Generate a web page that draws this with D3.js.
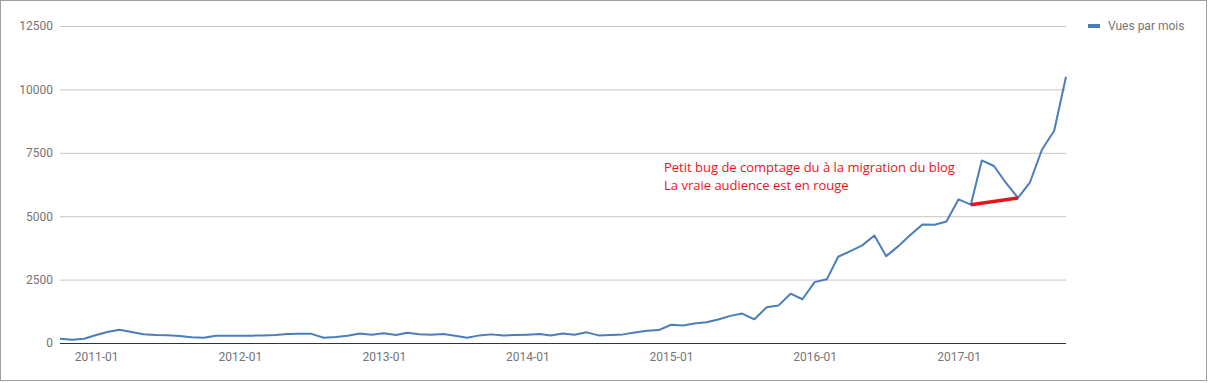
<!DOCTYPE html>
<html>
<head>
<meta charset="utf-8">
<script src="https://cdn.jsdelivr.net/npm/d3@7"></script>
<style>
  html, body { margin: 0; padding: 0; background: #fff; }
  svg { display: block; }
</style>
</head>
<body>
<svg id="chart" width="1209" height="383"></svg>
<script>
// ---- Data ----
const months = [
  "2010-10","2010-11","2010-12",
  "2011-01","2011-02","2011-03","2011-04","2011-05","2011-06","2011-07","2011-08","2011-09","2011-10","2011-11","2011-12",
  "2012-01","2012-02","2012-03","2012-04","2012-05","2012-06","2012-07","2012-08","2012-09","2012-10","2012-11","2012-12",
  "2013-01","2013-02","2013-03","2013-04","2013-05","2013-06","2013-07","2013-08","2013-09","2013-10","2013-11","2013-12",
  "2014-01","2014-02","2014-03","2014-04","2014-05","2014-06","2014-07","2014-08","2014-09","2014-10","2014-11","2014-12",
  "2015-01","2015-02","2015-03","2015-04","2015-05","2015-06","2015-07","2015-08","2015-09","2015-10","2015-11","2015-12",
  "2016-01","2016-02","2016-03","2016-04","2016-05","2016-06","2016-07","2016-08","2016-09","2016-10","2016-11","2016-12",
  "2017-01","2017-02","2017-03","2017-04","2017-05","2017-06","2017-07","2017-08","2017-09","2017-10"
];
const vuesParMois = [
  170,130,170,
  315,445,525,435,345,315,305,275,225,210,290,290,
  290,290,300,315,355,365,360,210,235,290,375,330,
  380,315,405,345,330,355,290,210,300,340,300,315,
  330,355,295,375,325,420,300,320,340,415,485,510,
  720,690,765,820,930,1070,1160,935,1410,1475,1945,1725,
  2400,2510,3400,3625,3850,4240,3425,3820,4265,4670,4665,4790,
  5665,5455,7200,6980,6320,5720,6320,7630,8370,10500
];
// corrected audience segment (drawn in red)
const vraieMonths = ["2017-02","2017-06"];
const vraieValues = [5455, 5720];

const yTicks = [0, 2500, 5000, 7500, 10000, 12500];
const xTickLabels = ["2011-01","2012-01","2013-01","2014-01","2015-01","2016-01","2017-01"];
const seriesName = "Vues par mois";
const annotationLines = [
  "Petit bug de comptage du à la migration du blog",
  "La vraie audience est en rouge"
];

// ---- Chart ----
const parse = d3.timeParse("%Y-%m");
const fmt = d3.timeFormat("%Y-%m");
const svg = d3.select("#chart");

const mLeft = 60, mRight = 1066, mTop = 26, mBottom = 343;

// frame
svg.append("rect")
  .attr("x", 0.5).attr("y", 0.5)
  .attr("width", 1206).attr("height", 380)
  .attr("fill", "#fff")
  .attr("stroke", "#9e9e9e").attr("stroke-width", 1);

const x = d3.scaleTime()
  .domain([parse(months[0]), parse(months[months.length - 1])])
  .range([mLeft, mRight]);
const y = d3.scaleLinear().domain([0, 12500]).range([mBottom, mTop]);

// gridlines + y labels
const yAxis = svg.append("g")
  .attr("transform", `translate(${mLeft},0)`)
  .call(d3.axisLeft(y).tickValues(yTicks).tickSize(-(mRight - mLeft)).tickPadding(7).tickFormat(d3.format("d")));
yAxis.select(".domain").remove();
yAxis.selectAll(".tick line").attr("stroke", "#c6c6c6");
yAxis.selectAll(".tick text")
  .attr("fill", "#757575")
  .style("font-family", "Roboto, sans-serif")
  .style("font-size", "12px");
yAxis.selectAll(".tick").filter(d => d === 0).select("line").remove();

// x axis
const xAxis = svg.append("g")
  .attr("transform", `translate(0,${mBottom})`)
  .call(d3.axisBottom(x).tickValues(xTickLabels.map(parse)).tickSize(0).tickPadding(9).tickFormat(fmt));
xAxis.select(".domain").remove();
xAxis.selectAll(".tick text")
  .attr("fill", "#757575")
  .style("font-family", "Roboto, sans-serif")
  .style("font-size", "12px");

// baseline
svg.append("line")
  .attr("x1", mLeft).attr("x2", mRight)
  .attr("y1", y(0) + 0.5).attr("y2", y(0) + 0.5)
  .attr("stroke", "#333").attr("stroke-width", 1);

// series line
const data = months.map((m, i) => ({ d: parse(m), v: vuesParMois[i] }));
const line = d3.line().x(p => x(p.d)).y(p => y(p.v));
svg.append("path")
  .datum(data)
  .attr("fill", "none")
  .attr("stroke", "#4a7ebb")
  .attr("stroke-width", 2)
  .attr("stroke-linejoin", "round")
  .attr("d", line);

// red corrected segment
const vraie = vraieMonths.map((m, i) => ({ d: parse(m), v: vraieValues[i] }));
svg.append("path")
  .datum(vraie)
  .attr("fill", "none")
  .attr("stroke", "#e8141b")
  .attr("stroke-width", 3.5)
  .attr("d", line);

// annotation
const ann = svg.append("text")
  .attr("x", 664).attr("y", 172)
  .attr("fill", "#e8141b")
  .style("font-family", "'Open Sans', sans-serif")
  .style("font-size", "13px");
annotationLines.forEach((t, i) => {
  ann.append("tspan").attr("x", 664).attr("dy", i === 0 ? 0 : 18).text(t);
});

// legend
svg.append("rect")
  .attr("x", 1088).attr("y", 24).attr("width", 12).attr("height", 4)
  .attr("fill", "#4a7ebb");
svg.append("text")
  .attr("x", 1108).attr("y", 30)
  .attr("fill", "#757575")
  .style("font-family", "Roboto, sans-serif")
  .style("font-size", "12px")
  .text(seriesName);
</script>
</body>
</html>
